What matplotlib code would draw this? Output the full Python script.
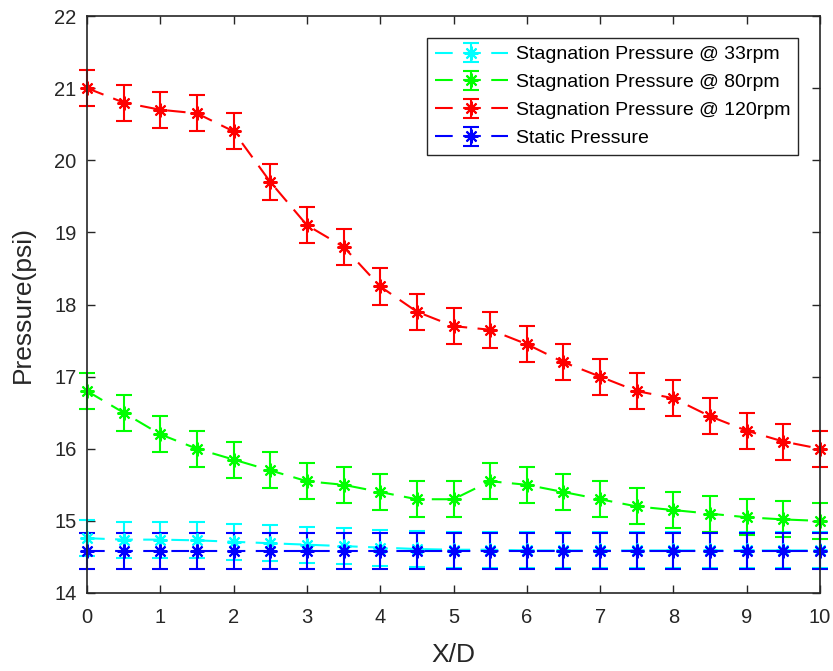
import matplotlib
matplotlib.use("Agg")
import matplotlib.pyplot as plt

plt.rcParams['font.family'] = ['Liberation Sans', 'DejaVu Sans']

# X/D stations
xd = [0, 0.5, 1, 1.5, 2, 2.5, 3, 3.5, 4, 4.5, 5, 5.5, 6, 6.5, 7, 7.5, 8, 8.5, 9, 9.5, 10]

# Pressures (psi)
stag_33 = [14.76, 14.74, 14.74, 14.73, 14.71, 14.69, 14.67, 14.65, 14.63, 14.61, 14.60,
           14.60, 14.59, 14.59, 14.59, 14.59, 14.59, 14.59, 14.59, 14.59, 14.59]
stag_80 = [16.8, 16.5, 16.2, 16.0, 15.85, 15.7, 15.55, 15.5, 15.4, 15.3, 15.3,
           15.55, 15.5, 15.4, 15.3, 15.2, 15.15, 15.1, 15.05, 15.02, 15.0]
stag_120 = [21.0, 20.8, 20.7, 20.65, 20.4, 19.7, 19.1, 18.8, 18.25, 17.9, 17.7,
            17.65, 17.45, 17.2, 17.0, 16.8, 16.7, 16.45, 16.25, 16.1, 16.0]
static = [14.58] * 21

# Measurement uncertainty (psi)
err = 0.25

series = [
    ("Stagnation Pressure @ 33rpm", stag_33, (0, 1, 1)),
    ("Stagnation Pressure @ 80rpm", stag_80, (0, 1, 0)),
    ("Stagnation Pressure @ 120rpm", stag_120, (1, 0, 0)),
    ("Static Pressure", static, (0, 0, 1)),
]

fig = plt.figure(figsize=(8.33, 6.71), dpi=100)
ax = fig.add_axes([87 / 833, 1 - 593 / 671, 733 / 833, 577 / 671])

lw = 1.5
asterisk = (8, 2, 0)
for label, vals, col in series:
    cont = ax.errorbar(xd, vals, yerr=err, color=col, linestyle=(0, (8.5, 5.0)), linewidth=lw,
                       marker=asterisk, markersize=10, markeredgewidth=1.5,
                       capsize=5.5, capthick=lw, elinewidth=lw, label=label)
    for art in cont.get_children():
        art.set_clip_on(False)

ax.set_xlim(0, 10)
ax.set_ylim(14, 22)
ax.set_xticks(range(0, 11))
ax.set_yticks(range(14, 23))

dark = '#262626'
for s in ax.spines.values():
    s.set_color(dark)
    s.set_linewidth(1.2)
ax.tick_params(direction='in', top=True, right=True, length=5.5, width=1.0,
               colors=dark, labelsize=14.5)
ax.tick_params(axis='x', pad=10.5)
ax.tick_params(axis='y', pad=7.5)

ax.set_xlabel('X/D', fontsize=19, color=dark)
ax.set_ylabel('Pressure(psi)', fontsize=19, color=dark)
ax.xaxis.set_label_coords(0.5, -0.086)
ax.yaxis.set_label_coords(-0.071, 0.5)

leg = ax.legend(loc='upper right', bbox_to_anchor=(0.970, 0.962), borderaxespad=0,
                fontsize=14, handlelength=3.75, handletextpad=0.4, labelspacing=0.53,
                borderpad=0.4, fancybox=False, framealpha=1, edgecolor=dark)
leg.get_frame().set_linewidth(1.0)
for ln in leg.get_lines():
    ln.set_linestyle((0, (9.1, 16.8)))

fig.savefig('out.png', dpi=100)
